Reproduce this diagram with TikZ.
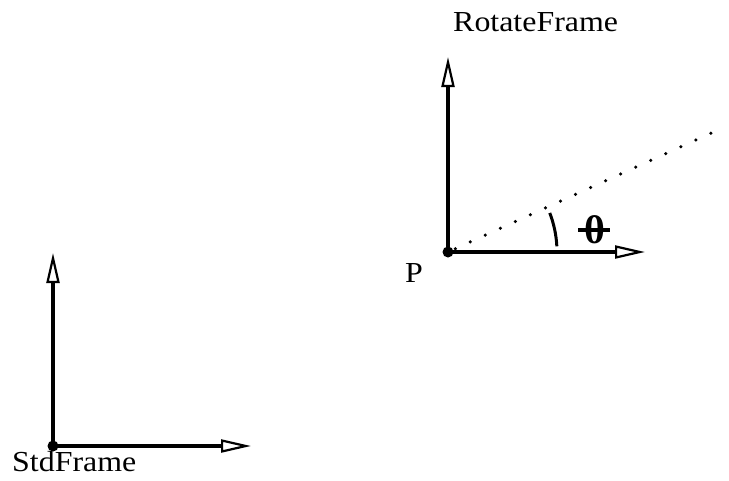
\documentclass[tikz,border=0pt]{standalone}
\usepackage{fontspec}
\setmainfont{Liberation Serif}
\usetikzlibrary{arrows.meta}
\begin{document}
\begin{tikzpicture}[x=1pt,y=-1pt,
  axis/.style={line width=3.5pt,-{Triangle[open,length=30pt,width=13pt,line width=2.2pt]}},
  lbl/.style={inner sep=0pt,anchor=base west,font=\fontsize{29}{34}\selectfont,xscale=1.1},
  origin/.style={circle,fill=black,inner sep=0pt,minimum size=11pt}]
\useasboundingbox[fill=white] (0,0) rectangle (729,480);
% StdFrame
\node[origin] (O1) at (53,446) {};
\coordinate (Y1) at (53,253);
\coordinate (X1) at (251,446);
\draw[axis] (O1.center) -- (Y1);
\draw[axis] (O1.center) -- (X1);
\node[lbl] (std) at (12,471) {StdFrame};
% RotateFrame
\node[origin] (P) at (448,252) {};
\coordinate (Y2) at (448,57);
\coordinate (X2) at (645,252);
\coordinate (D) at (720,129);
\draw[axis] (P.center) -- (Y2);
\draw[axis] (P.center) -- (X2);
\draw[line width=3.5pt,line cap=round,dash pattern=on 0pt off 16.5pt,shorten <=8pt] (P.center) -- (D);
\draw[line width=3pt] ([shift={(-3:109)}]P.center) arc[start angle=-3,end angle=-21,radius=109];
\node[lbl] (rot) at (453,31) {RotateFrame};
\node[lbl] (plbl) at (405,282) {P};
\node[inner sep=0pt,font=\fontsize{40}{44}\selectfont\bfseries] (theta) at (595,230) {θ};
\draw[line width=4pt] ([xshift=-6pt]theta.west) -- ([xshift=4pt]theta.east);
\end{tikzpicture}
\end{document}
